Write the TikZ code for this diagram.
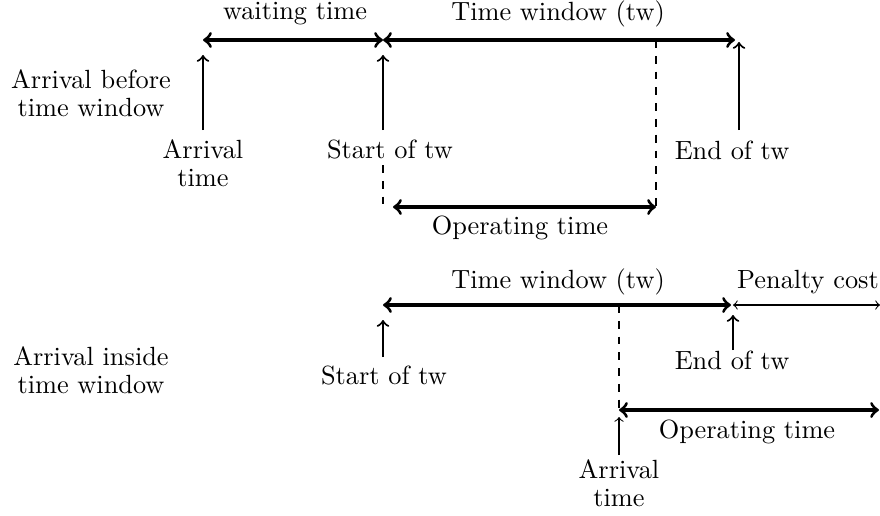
\documentclass[tikz,border=0pt]{standalone}
\begin{document}
\begin{tikzpicture}[x=0.38pt,y=-0.38pt,
  big/.style={very thick,<->},
  tick/.style={thick,->},
  guide/.style={thin,dashed},
  lbl/.style={inner sep=0pt,align=center,font=\fontsize{10}{10.5}\selectfont}]
\useasboundingbox (0,0) rectangle (880,515);

% ---- arrival before the time window ----
\node[lbl] (case1) at (91,93) {Arrival before\\time window};

\coordinate (a1) at (203,40);
\coordinate (s1) at (383,40);
\coordinate (e1) at (735,40);
\coordinate (o1) at (656,40);
\draw[big] (a1) -- (s1);
\draw[big] (s1) -- (e1);
\node[lbl] (wt1) at (295,14) {waiting time};
\node[lbl] (tw1) at (558,14) {Time window (tw)};

\node[lbl] (arr1) at (203,163) {Arrival\\time};
\node[lbl] (st1) at (390,150) {Start of tw};
\node[lbl] (en1) at (732,150) {End of tw};
\coordinate (arr1t) at (203,130); \coordinate (arr1h) at (203,55);
\coordinate (st1t) at (383,130);  \coordinate (st1h) at (383,55);
\coordinate (en1t) at (739,130);  \coordinate (en1h) at (739,42);
\draw[tick] (arr1t) -- (arr1h);
\draw[tick] (st1t) -- (st1h);
\draw[tick] (en1t) -- (en1h);

\coordinate (d1a) at (383,165); \coordinate (d1b) at (383,207);
\coordinate (o1b) at (656,207);
\coordinate (op1a) at (393,207);
\draw[guide] (d1a) -- (d1b);
\draw[guide] (o1) -- (o1b);
\draw[big] (op1a) -- (o1b);
\node[lbl] (op1) at (520,228) {Operating time};

% ---- arrival inside the time window ----
\node[lbl] (case2) at (91,370) {Arrival inside\\time window};

\coordinate (s2) at (383,305);
\coordinate (e2) at (731,305);
\coordinate (p2a) at (733,305);
\coordinate (p2b) at (880,305);
\draw[big] (s2) -- (e2);
\draw[thin,<->] (p2a) -- (p2b);
\node[lbl] (tw2) at (558,282) {Time window (tw)};
\node[lbl] (pc2) at (808,282) {Penalty cost};

\node[lbl] (st2) at (384,376) {Start of tw};
\node[lbl] (en2) at (732,360) {End of tw};
\coordinate (st2t) at (383,357); \coordinate (st2h) at (383,320);
\coordinate (en2t) at (733,350); \coordinate (en2h) at (733,315);
\draw[tick] (st2t) -- (st2h);
\draw[tick] (en2t) -- (en2h);

\coordinate (d2a) at (619,305); \coordinate (d2b) at (619,410);
\draw[guide] (d2a) -- (d2b);
\coordinate (ar2t) at (619,455); \coordinate (ar2h) at (619,417);
\draw[thin,->] (ar2t) -- (ar2h);
\node[lbl] (arr2) at (619,483) {Arrival\\time};

\coordinate (op2b) at (879,410);
\draw[big] (d2b) -- (op2b);
\node[lbl] (op2) at (747,432) {Operating time};
\end{tikzpicture}
\end{document}
